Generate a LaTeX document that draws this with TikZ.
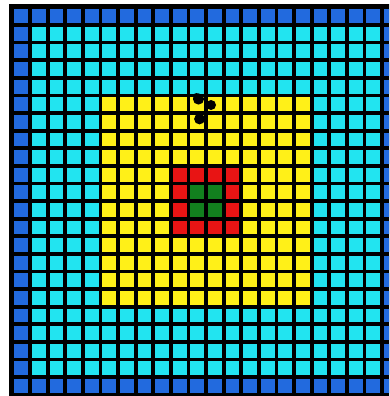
\documentclass[tikz,border=0pt]{standalone}
\definecolor{cblue}{RGB}{34,106,222}
\definecolor{ccyan}{RGB}{34,228,240}
\definecolor{cyell}{RGB}{255,240,24}
\definecolor{cred}{RGB}{232,20,20}
\definecolor{cgreen}{RGB}{18,128,30}
\tikzset{cellbox/.style={fill=#1}, dotmark/.style={fill=black}}
\begin{document}
\begin{tikzpicture}[x=1pt,y=-1pt]
\useasboundingbox (0,0) rectangle (389,396);
\clip (0,0) rectangle (389,396);
\fill[black] (9,4) rectangle (405,397);
\foreach \c/\a/\b in {cblue/0/21, ccyan/1/20, cyell/5/16, cred/9/12, cgreen/10/11} {
  \foreach \i in {\a,...,\b} {
    \foreach \j in {\a,...,\b} {
      \fill[cellbox=\c] ({12.4+\i*17.6+1.9},{7.4+\j*17.6+1.9}) rectangle ++(13.8,13.8);
    }
  }
}
\fill[dotmark] (198.5,99) circle (5.6);
\fill[dotmark] (196.5,96.5) circle (3.5);
\fill[dotmark] (211,105) circle (5);
\fill[dotmark] (199.5,119) circle (5.4);
\end{tikzpicture}
\end{document}
